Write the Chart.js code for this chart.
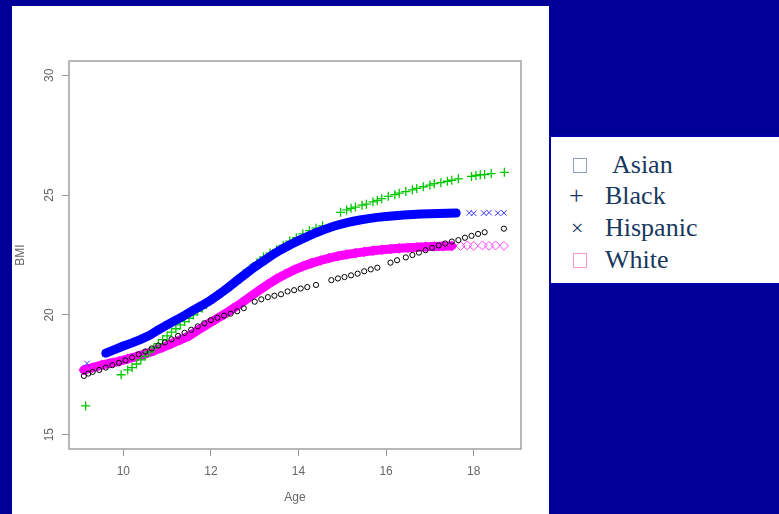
<!DOCTYPE html>
<html>
<head>
<meta charset="utf-8">
<script src="https://cdn.jsdelivr.net/npm/chart.js@4.4.0/dist/chart.umd.min.js"></script>
<style>
  body { margin: 0; background: #000099; width: 779px; height: 514px; overflow: hidden; position: relative; }
  #panel { position: absolute; left: 12px; top: 6px; width: 537px; height: 508px; background: #fff; }
  #legend { position: absolute; left: 549px; top: 135px; width: 232px; height: 150px; background: #fff;
            border: 2px solid #0000aa; box-sizing: border-box; font-family: "Liberation Serif", serif; color: #17375e; }
  .row { position: absolute; height: 30px; line-height: 30px; font-size: 26px; white-space: nowrap; }
  .box { position: absolute; width: 14px; height: 15px; border: 1px solid; box-sizing: border-box; }
</style>
</head>
<body>
<div id="panel"><canvas id="bmi" width="537" height="508"></canvas></div>
<div id="legend">
  <div class="box" style="left:22px; top:21px; border-color:#8d9fc0;"></div>
  <div class="row" style="left:61px; top:13px;">Asian</div>
  <div class="row" style="left:18px; top:44px;">+</div>
  <div class="row" style="left:54px; top:44px;">Black</div>
  <div class="row" style="left:20px; top:76px; font-size:22px;">×</div>
  <div class="row" style="left:54px; top:76px;">Hispanic</div>
  <div class="box" style="left:22px; top:116px; border-color:#ff99cc;"></div>
  <div class="row" style="left:54px; top:108px;">White</div>
</div>
<script>
// axis ticks
const xTicks = [10, 12, 14, 16, 18];
const yTicks = [15, 20, 25, 30];

// Asian (black circles)
const asianAge = [9.10, 9.20, 9.30, 9.45, 9.60, 9.75, 9.90, 10.05, 10.20, 10.35, 10.50, 10.65, 10.80, 10.95,
  11.10, 11.25, 11.40, 11.55, 11.70, 11.85, 12.00, 12.15, 12.30, 12.45, 12.60, 12.75, 13.00, 13.15, 13.30,
  13.45, 13.60, 13.75, 13.90, 14.05, 14.20, 14.40, 14.75, 14.90, 15.05, 15.20, 15.35, 15.50, 15.65, 15.80,
  16.10, 16.25, 16.45, 16.60, 16.75, 16.90, 17.05, 17.20, 17.35, 17.50, 17.65, 17.80, 17.95, 18.10, 18.25, 18.69];
const asianBmi = [17.45, 17.55, 17.62, 17.70, 17.80, 17.90, 18.00, 18.10, 18.22, 18.35, 18.47, 18.60, 18.72, 18.85,
  18.98, 19.12, 19.25, 19.38, 19.52, 19.65, 19.78, 19.88, 19.97, 20.05, 20.15, 20.28, 20.55, 20.65, 20.74,
  20.80, 20.86, 20.98, 21.03, 21.10, 21.16, 21.25, 21.45, 21.52, 21.58, 21.65, 21.72, 21.82, 21.90, 21.97,
  22.18, 22.28, 22.40, 22.50, 22.60, 22.70, 22.80, 22.90, 22.98, 23.06, 23.12, 23.22, 23.30, 23.38, 23.45, 23.60];

// Black (green plus)
const blackAge = [9.14, 9.95, 10.10, 10.20, 10.30, 10.40, 10.50, 10.60, 10.70, 10.80, 10.90, 11.00, 11.10, 11.20,
  11.30, 11.40, 11.50, 11.60, 11.70, 11.80, 11.90, 12.00, 12.15, 12.30, 12.45, 12.60, 12.75, 12.90, 13.05,
  13.20, 13.35, 13.50, 13.65, 13.80, 13.95, 14.10, 14.25, 14.40, 14.55, 14.96, 15.10, 15.20, 15.30, 15.45,
  15.55, 15.70, 15.80, 15.90, 16.05, 16.20, 16.30, 16.45, 16.60, 16.70, 16.85, 17.00, 17.10, 17.25, 17.40,
  17.50, 17.65, 17.95, 18.05, 18.15, 18.25, 18.40, 18.70];
const blackBmi = [16.20, 17.50, 17.70, 17.80, 17.95, 18.12, 18.28, 18.45, 18.62, 18.80, 18.97, 19.12, 19.28, 19.42,
  19.58, 19.72, 19.86, 20.00, 20.15, 20.28, 20.43, 20.58, 20.80, 21.02, 21.25, 21.50, 21.73, 21.95, 22.18,
  22.42, 22.58, 22.72, 22.90, 23.08, 23.22, 23.38, 23.52, 23.62, 23.72, 24.28, 24.38, 24.45, 24.50, 24.58,
  24.62, 24.72, 24.78, 24.85, 24.95, 25.02, 25.08, 25.15, 25.22, 25.28, 25.35, 25.42, 25.48, 25.52, 25.58,
  25.62, 25.68, 25.78, 25.82, 25.85, 25.86, 25.90, 25.95];

// Hispanic (blue x): dense band and sparse ends
const hispBandAge = [9.6, 9.8, 10.0, 10.2, 10.4, 10.6, 10.8, 11.0, 11.2, 11.4, 11.6, 11.8, 12.0, 12.2, 12.4, 12.6,
  12.8, 13.0, 13.2, 13.4, 13.6, 13.8, 14.0, 14.2, 14.4, 14.6, 14.8, 15.0, 15.2, 15.4, 15.6, 15.8, 16.0, 16.2,
  16.4, 16.6, 16.8, 17.0, 17.2, 17.4, 17.6];
const hispBandBmi = [18.40, 18.55, 18.70, 18.83, 18.98, 19.15, 19.37, 19.58, 19.78, 19.98, 20.20, 20.40, 20.62,
  20.88, 21.15, 21.44, 21.72, 22.00, 22.25, 22.50, 22.72, 22.92, 23.10, 23.27, 23.43, 23.57, 23.70, 23.80,
  23.89, 23.96, 24.02, 24.07, 24.11, 24.14, 24.17, 24.19, 24.21, 24.22, 24.23, 24.24, 24.25];
const hispDotAge = [9.17, 17.90, 18.00, 18.23, 18.35, 18.55, 18.69];
const hispDotBmi = [17.97, 24.26, 24.24, 24.25, 24.27, 24.25, 24.26];

// White (magenta diamonds): dense band and sparse ends
const whiteBandAge = [9.1, 9.3, 9.5, 9.7, 9.9, 10.1, 10.3, 10.5, 10.7, 10.9, 11.1, 11.3, 11.5, 11.7, 11.9, 12.1,
  12.3, 12.5, 12.7, 12.9, 13.1, 13.3, 13.5, 13.7, 13.9, 14.1, 14.3, 14.5, 14.7, 14.9, 15.1, 15.3, 15.5, 15.7,
  15.9, 16.1, 16.3, 16.5, 16.7, 16.9, 17.1, 17.3, 17.5];
const whiteBandBmi = [17.70, 17.80, 17.90, 17.98, 18.06, 18.16, 18.26, 18.37, 18.50, 18.64, 18.80, 18.96, 19.12,
  19.36, 19.58, 19.80, 20.02, 20.26, 20.50, 20.76, 21.02, 21.27, 21.50, 21.70, 21.88, 22.03, 22.16, 22.27,
  22.37, 22.45, 22.52, 22.58, 22.63, 22.68, 22.72, 22.75, 22.78, 22.80, 22.82, 22.84, 22.86, 22.87, 22.88];
const whiteDotAge = [17.70, 17.85, 18.00, 18.20, 18.35, 18.50, 18.69];
const whiteDotBmi = [22.88, 22.90, 22.88, 22.90, 22.88, 22.90, 22.88];

const pts = (xs, ys) => xs.map((x, i) => ({x: x, y: ys[i]}));

const frame = {
  id: 'frame',
  beforeDatasetsDraw(chart) {
    const {ctx, chartArea: a} = chart;
    ctx.save();
    ctx.strokeStyle = '#a0a0a0';
    ctx.lineWidth = 1.5;
    ctx.strokeRect(a.left, a.top, a.right - a.left, a.bottom - a.top);
    ctx.restore();
  },
  afterDraw(chart) {
    const {ctx, chartArea: a} = chart;
    const y = chart.scales.y;
    ctx.save();
    ctx.fillStyle = '#666';
    ctx.textAlign = 'center';
    ctx.textBaseline = 'middle';
    ctx.font = '12px "Liberation Sans"';
    y.ticks.forEach(t => {
      ctx.save();
      ctx.translate(38, y.getPixelForValue(t.value));
      ctx.rotate(-Math.PI / 2);
      ctx.fillText(String(t.value), 0, 0);
      ctx.restore();
    });
    ctx.font = '12px "Liberation Sans"';
    ctx.fillText('Age', (a.left + a.right) / 2, 492);
    ctx.translate(9, (a.top + a.bottom) / 2);
    ctx.rotate(-Math.PI / 2);
    ctx.fillText('BMI', 0, 0);
    ctx.restore();
  }
};

new Chart(document.getElementById('bmi'), {
  type: 'scatter',
  data: {
    datasets: [
      { label: 'Asian', data: pts(asianAge, asianBmi), pointStyle: 'circle', pointRadius: 2.6,
        borderColor: '#000', backgroundColor: 'rgba(0,0,0,0)', borderWidth: 1 },
      { label: 'Hispanic', data: pts(hispBandAge, hispBandBmi), showLine: true, borderColor: '#0000ff',
        borderWidth: 9, borderCapStyle: 'round', pointStyle: 'crossRot', pointRadius: 4.5,
        pointBorderColor: '#0000ff', pointBorderWidth: 1.2, backgroundColor: '#0000ff' },
      { label: 'Hispanic', data: pts(hispDotAge, hispDotBmi), pointStyle: 'crossRot', pointRadius: 4,
        borderColor: '#3a3aff', borderWidth: 1 },
      { label: 'Black', data: pts(blackAge, blackBmi), pointStyle: 'cross', pointRadius: 4.5,
        borderColor: '#00c800', borderWidth: 1.3 },
      { label: 'White', data: pts(whiteBandAge, whiteBandBmi), showLine: true, borderColor: '#ff00ff',
        borderWidth: 9, borderCapStyle: 'round', pointStyle: 'rectRot', pointRadius: 4.5,
        pointBorderColor: '#ff00ff', pointBorderWidth: 1.2, backgroundColor: 'rgba(0,0,0,0)' },
      { label: 'White', data: pts(whiteDotAge, whiteDotBmi), pointStyle: 'rectRot', pointRadius: 4.5,
        borderColor: '#ff44ff', backgroundColor: 'rgba(0,0,0,0)', borderWidth: 1 }
    ]
  },
  options: {
    responsive: false,
    animation: false,
    layout: { padding: { left: 0, top: 55, right: 28, bottom: 0 } },
    plugins: { legend: { display: false }, tooltip: { enabled: false } },
    scales: {
      x: {
        type: 'linear', min: 8.76, max: 19.08,
        afterBuildTicks: s => { s.ticks = xTicks.map(v => ({value: v})); },
        afterFit: s => { s.height = 65; },
        border: { display: false },
        grid: { drawOnChartArea: false, drawTicks: true, tickLength: 7, color: '#999' },
        ticks: { color: '#666', padding: 8, font: { family: 'Liberation Sans', size: 12 } }
      },
      y: {
        type: 'linear', min: 14.4, max: 30.6,
        afterBuildTicks: s => { s.ticks = yTicks.map(v => ({value: v})); },
        afterFit: s => { s.width = 57; },
        border: { display: false },
        grid: { drawOnChartArea: false, drawTicks: true, tickLength: 7, color: '#999' },
        ticks: { color: 'rgba(0,0,0,0)', font: { family: 'Liberation Sans', size: 12 } }
      }
    }
  },
  plugins: [frame]
});
</script>
</body>
</html>
